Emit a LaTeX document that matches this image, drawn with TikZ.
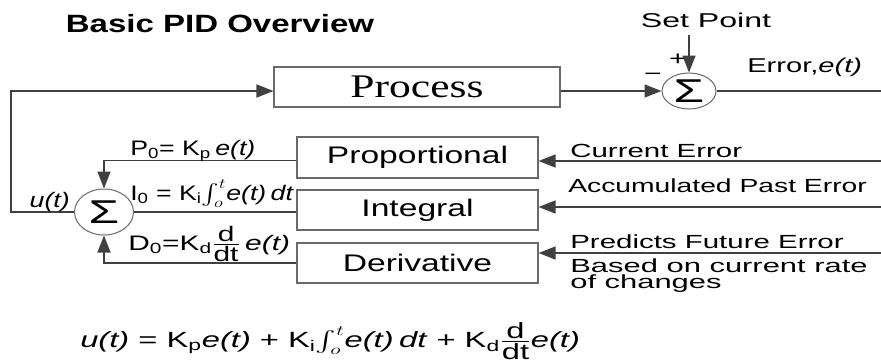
\documentclass[tikz,border=0pt]{standalone}
\usepackage{amsmath}
\usepackage{fontspec}
\usepackage{graphicx}
\setmainfont{Liberation Sans}
\newfontfamily\procfont{Liberation Serif}
\usetikzlibrary{arrows.meta,shapes.geometric,positioning}
\definecolor{wiregray}{RGB}{64,64,64}
\definecolor{framegray}{RGB}{105,105,105}
\newcommand{\wide}[2][1.4]{\scalebox{#1}[1]{#2}}
\tikzset{
  wire/.style={draw=wiregray, line width=1.5pt},
  arr/.style={wire, -{Triangle[length=17pt,width=13pt]}},
  blk/.style={draw=framegray, line width=1.1pt, minimum width=241pt,
    minimum height=40pt, inner sep=0pt, font=\fontsize{24}{24}\selectfont},
  sumnode/.style={ellipse, draw=framegray, line width=1pt, inner sep=0pt},
  sig/.style={font=\fontsize{33}{33}\selectfont, inner sep=0pt, xscale=1.5},
  lbl/.style={font=\fontsize{19}{16}\selectfont, inner sep=0pt, xscale=1.55},
  toplbl/.style={font=\fontsize{20}{20}\selectfont, inner sep=0pt, xscale=1.5},
  eqn/.style={font=\fontsize{21}{21}\selectfont, inner sep=0pt, xscale=1.27},
}
\begin{document}
\begin{tikzpicture}[x=1pt,y=-1pt]
  \useasboundingbox (0,0) rectangle (881,362);

  % Judul
  \node[font=\bfseries\fontsize{25}{25}\selectfont, inner sep=0pt, xscale=1.32]
    (title) at (220,24) {Basic PID Overview};

  % Proses dan penjumlah atas
  \node[blk, minimum width=286pt, font=\procfont\fontsize{33}{33}\selectfont]
    (proc) at (417,87) {\wide[1.32]{Process}};
  \node[sumnode, minimum width=54pt, minimum height=36pt,
    label={[sig]center:Σ}] (sumtop) at (689,91) {};
  \node[toplbl, xscale=1.07] (setpt) at (706,20) {Set Point};
  \node[toplbl] (plus) at (678,60) {+};
  \node[toplbl] (minus) at (653,77) {−};
  \node[toplbl, xscale=0.97, anchor=base west] (errlbl) at (747,72) {Error,\textit{e(t)}};

  % Blok P, I, D dan penjumlah bawah
  \node[blk, minimum height=41pt] (prop) at (417.5,157.5) {\wide{Proportional}};
  \node[blk] (integ) at (417.5,210) {\wide{Integral}};
  \node[blk] (deriv) at (417.5,263) {\wide{Derivative}};
  \node[sumnode, minimum width=59pt, minimum height=46pt,
    label={[sig]center:Σ}] (sumlow) at (104,212) {};

  % Titik bantu
  \coordinate (spin) at (689,35);
  \coordinate (errout) at (881,91);
  \coordinate (fbtop) at (11,91);

  % Garis-garis penghubung
  \draw[arr] (spin) -- (sumtop.north);
  \draw[arr] (sumtop.west -| proc.east) -- (sumtop.west);
  \draw[wire] (sumtop.east) -- (errout);
  \draw[arr] (sumlow.west) -| (fbtop) -- (fbtop -| proc.west);
  \draw[arr] ([yshift=-3pt]prop.west) -| (sumlow.north);
  \draw[wire] (integ.west |- sumlow.east) -- (sumlow.east);
  \draw[arr] (deriv.west) -| (sumlow.south);
  \foreach \b/\yy in {prop/161,integ/207,deriv/253}{
      \coordinate (in\b) at (881,\yy);
      \draw[arr] (in\b) -- (in\b -| \b.east);
    }

  % Label masukan
  \node[lbl, anchor=base west] (lblcur) at (570,157) {Current Error};
  \node[lbl, xscale=0.96, anchor=base west] (lblacc) at (568,192) {Accumulated Past Error};
  \node[lbl, anchor=base west] (lblpred) at (570,248) {Predicts Future Error};
  \node[lbl, xscale=1.05, anchor=base west, align=left] (lblbased) at (570,288)
    {Based on current rate\\of changes};

  % Persamaan
  \node[eqn, anchor=base east] (ulbl) at (70,207) {\textit{u(t)}};
  \node[eqn, anchor=base west] (peq) at (130,155)
    {P\textsubscript{0}= K\textsubscript{p}\,\textit{e(t)}};
  \node[eqn, anchor=base west] (ieq) at (130,200)
    {I\textsubscript{0} = K\textsubscript{i}$\int_o^t$\textit{e(t)\,dt}};
  \node[eqn, xscale=1.12, anchor=base west] (deq) at (128,250)
    {D\textsubscript{0}=K\textsubscript{d}$\frac{\mbox{d}}{\mbox{dt}}$\,\textit{e(t)}};
  \node[eqn, font=\fontsize{22}{22}\selectfont, xscale=1.17, anchor=base west] (ueq) at (80,347)
    {\textit{u(t)} = K\textsubscript{p}\textit{e(t)} + K\textsubscript{i}$\int_o^t$\textit{e(t)\,dt}
     + K\textsubscript{d}$\frac{\mbox{d}}{\mbox{dt}}$\textit{e(t)}};
\end{tikzpicture}
\end{document}
